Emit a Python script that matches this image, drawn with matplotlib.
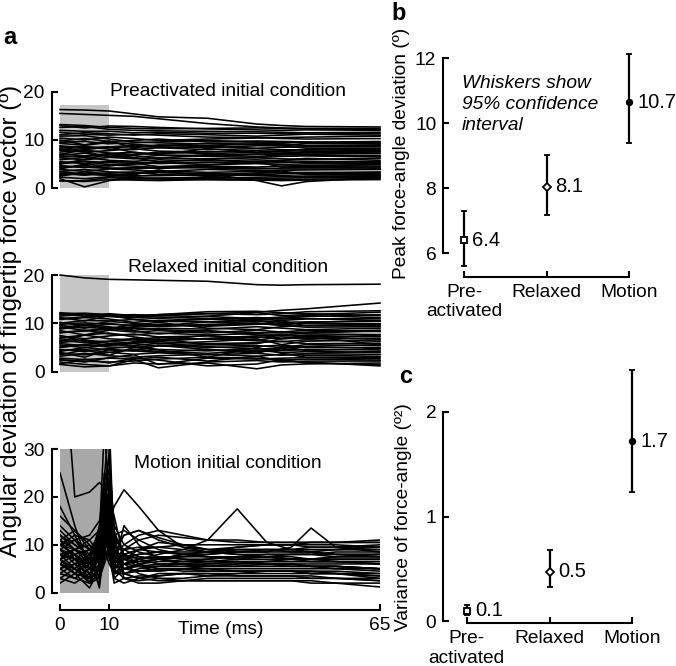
import matplotlib.pyplot as plt

plt.rcParams['font.family'] = ['Liberation Sans', 'DejaVu Sans']

W, H = 676, 666

t_slow = [0, 5, 10, 15, 20, 30, 40, 45, 50, 65]
t_motion = [0, 3, 6, 8, 9, 10, 11, 13, 16, 20, 25, 30, 36, 42, 47, 51, 56, 65]

# angular deviation traces (deg), one row per trial
preactivated = [
    [16.3, 16.2, 16.0, 15.4, 14.8, 14.5, 13.3, 13.0, 12.8, 12.7],
    [15.5, 15.3, 15.1, 14.9, 14.4, 13.4, 12.7, 12.5, 12.4, 12.4],
    [13.0, 12.5, 12.9, 12.8, 12.6, 12.3, 12.1, 12.0, 12.1, 12.0],
    [12.6, 12.8, 12.2, 12.0, 11.9, 11.8, 11.7, 11.6, 11.5, 11.3],
    [11.1, 11.5, 11.3, 11.0, 11.3, 11.1, 10.8, 11.0, 11.2, 11.0],
    [10.4, 10.0, 10.6, 10.3, 9.9, 10.2, 10.4, 10.5, 10.6, 10.8],
    [9.8, 10.3, 9.7, 9.9, 10.2, 9.6, 9.8, 9.7, 9.6, 9.5],
    [9.3, 8.9, 9.5, 9.1, 8.8, 9.3, 9.4, 9.1, 8.9, 9.0],
    [8.8, 8.4, 8.6, 8.9, 8.4, 8.7, 8.3, 8.5, 8.6, 8.6],
    [8.3, 8.7, 8.1, 8.0, 8.4, 8.0, 8.2, 8.0, 7.9, 8.1],
    [7.9, 7.5, 7.8, 8.2, 7.7, 7.5, 7.8, 7.6, 7.4, 7.5],
    [7.5, 7.9, 7.3, 7.0, 7.5, 7.2, 7.0, 7.2, 7.3, 7.2],
    [7.1, 6.7, 7.2, 7.5, 6.9, 6.8, 7.1, 7.0, 6.9, 6.8],
    [6.8, 7.3, 6.6, 6.4, 6.8, 6.6, 6.4, 6.6, 6.7, 6.5],
    [6.3, 5.9, 6.4, 6.1, 6.3, 6.1, 6.3, 6.1, 6.0, 6.2],
    [5.9, 6.4, 5.8, 5.6, 5.9, 5.7, 5.9, 5.7, 5.6, 5.5],
    [5.5, 5.1, 5.6, 5.4, 5.1, 5.4, 5.2, 5.3, 5.3, 5.1],
    [5.1, 5.5, 4.9, 5.0, 5.3, 4.9, 5.1, 4.9, 4.8, 4.9],
    [4.7, 4.3, 4.8, 4.6, 4.3, 4.6, 4.4, 4.6, 4.7, 4.6],
    [4.3, 4.7, 4.2, 4.0, 4.4, 4.2, 4.0, 4.2, 4.3, 4.2],
    [3.9, 3.5, 4.0, 3.8, 3.5, 3.9, 3.7, 3.7, 3.8, 3.9],
    [3.5, 3.9, 3.4, 3.2, 3.6, 3.3, 3.5, 3.3, 3.2, 3.4],
    [3.1, 2.7, 3.2, 3.4, 2.9, 3.1, 2.8, 3.0, 3.0, 3.0],
    [2.7, 3.1, 2.6, 2.5, 2.8, 2.6, 2.7, 2.6, 2.5, 2.6],
    [2.3, 2.0, 2.4, 2.2, 2.1, 2.3, 2.0, 2.1, 2.2, 2.3],
    [2.0, 0.3, 1.6, 2.0, 1.9, 1.8, 1.7, 1.8, 1.9, 2.0],
    [3.4, 3.0, 2.7, 3.1, 3.3, 3.0, 1.6, 0.5, 1.4, 2.2],
    [1.6, 1.4, 1.8, 1.7, 1.6, 1.8, 1.7, 1.6, 1.7, 1.8],
    [8.6, 7.6, 6.5, 6.8, 6.2, 7.0, 6.6, 6.9, 7.0, 6.6],
    [5.0, 6.0, 7.0, 6.3, 5.5, 6.0, 5.3, 5.8, 6.2, 5.8],
    [10.0, 9.0, 9.8, 8.4, 9.0, 8.8, 9.2, 8.8, 9.3, 9.3],
    [4.0, 5.0, 4.6, 5.2, 4.5, 4.8, 5.5, 4.4, 4.5, 4.4],
    [2.5, 3.4, 3.0, 2.8, 3.8, 2.4, 3.0, 3.6, 2.8, 2.8],
    [12.0, 11.8, 11.8, 11.5, 11.6, 11.4, 11.4, 11.3, 11.5, 11.6],
    [7.0, 8.0, 8.6, 7.4, 7.0, 8.2, 7.5, 7.8, 8.0, 7.8],
    [9.5, 9.7, 9.2, 9.4, 9.6, 9.9, 9.6, 9.4, 9.5, 9.7],
    [8.0, 8.2, 8.4, 8.6, 8.6, 8.4, 8.8, 8.8, 8.3, 8.3],
    [6.5, 6.6, 6.9, 7.0, 7.2, 7.6, 7.4, 7.3, 7.6, 7.6],
    [5.3, 5.6, 5.3, 5.2, 5.5, 5.3, 5.6, 5.5, 5.2, 5.3],
    [4.5, 4.4, 4.1, 4.3, 4.1, 4.4, 4.2, 4.0, 4.0, 4.0],
    [2.9, 2.9, 2.8, 2.6, 2.6, 2.8, 3.2, 3.2, 3.3, 3.2],
    [11.6, 11.2, 11.0, 11.2, 11.0, 10.6, 10.5, 10.3, 10.2, 10.3],
    [10.8, 10.9, 10.2, 9.6, 9.4, 9.2, 9.0, 9.2, 8.8, 8.8],
    [1.5, 1.6, 2.2, 1.9, 2.1, 2.0, 2.3, 2.4, 2.4, 2.5],
    [13.2, 13.0, 12.6, 12.4, 12.3, 12.4, 12.5, 12.4, 12.3, 12.2],
]

relaxed = [
    [20.0, 19.4, 19.1, 19.0, 18.9, 18.7, 18.0, 17.9, 18.0, 18.1],
    [11.0, 11.3, 11.5, 11.3, 11.6, 12.0, 12.3, 12.7, 13.0, 14.2],
    [12.0, 12.1, 11.8, 11.2, 11.0, 11.5, 12.2, 11.6, 11.8, 12.3],
    [11.5, 11.9, 11.6, 10.8, 10.5, 10.8, 11.2, 11.0, 11.4, 11.8],
    [10.8, 11.2, 10.9, 10.2, 10.6, 10.9, 10.3, 10.6, 10.9, 11.0],
    [10.2, 9.5, 10.4, 10.0, 9.5, 10.3, 10.0, 9.6, 10.2, 10.6],
    [9.6, 9.0, 10.0, 9.4, 9.8, 9.4, 9.8, 10.5, 9.5, 9.5],
    [9.0, 9.8, 9.3, 8.6, 9.0, 8.8, 9.3, 9.0, 8.7, 9.0],
    [8.5, 7.6, 8.6, 8.2, 8.5, 8.0, 8.6, 8.2, 8.6, 8.3],
    [8.0, 8.6, 7.8, 7.6, 8.0, 7.6, 7.9, 8.3, 7.8, 7.7],
    [7.4, 6.8, 7.4, 7.8, 7.2, 7.4, 7.0, 7.5, 7.2, 7.3],
    [7.0, 7.6, 6.8, 6.6, 7.1, 6.7, 7.2, 6.8, 7.0, 6.8],
    [6.5, 6.0, 6.3, 6.9, 6.4, 6.8, 6.4, 6.2, 6.6, 6.3],
    [6.0, 6.6, 5.8, 5.9, 6.2, 5.8, 6.0, 6.3, 5.8, 5.9],
    [5.5, 5.0, 5.5, 5.8, 5.3, 5.6, 5.4, 5.0, 5.6, 5.4],
    [5.1, 5.6, 5.1, 5.0, 5.5, 5.0, 5.2, 5.5, 5.0, 5.0],
    [4.6, 4.2, 4.8, 5.2, 4.6, 4.3, 4.8, 4.5, 4.6, 4.5],
    [4.2, 5.0, 4.5, 4.3, 4.0, 4.6, 4.1, 4.4, 4.2, 4.0],
    [3.8, 3.5, 4.0, 3.6, 3.9, 3.5, 3.8, 3.4, 3.7, 3.6],
    [3.2, 3.8, 3.3, 3.0, 3.3, 3.6, 3.2, 3.6, 3.4, 3.2],
    [2.5, 2.0, 2.9, 3.5, 1.5, 2.8, 2.6, 2.8, 2.9, 2.7],
    [2.0, 1.5, 1.2, 2.5, 0.8, 2.0, 2.3, 2.0, 2.2, 2.2],
    [1.5, 1.0, 1.2, 1.8, 1.6, 1.8, 0.6, 1.4, 1.6, 1.8],
    [2.8, 2.5, 2.8, 2.6, 3.0, 2.2, 3.2, 2.2, 2.0, 1.2],
    [12.0, 11.5, 12.0, 11.6, 11.8, 12.4, 12.5, 12.2, 12.0, 11.6],
    [10.0, 10.6, 10.5, 10.8, 10.4, 10.3, 10.6, 10.2, 10.3, 10.4],
    [9.3, 8.5, 9.0, 9.7, 10.2, 9.0, 8.7, 9.3, 9.6, 9.8],
    [6.2, 7.6, 8.0, 7.2, 6.6, 7.5, 6.5, 7.2, 6.8, 7.6],
    [5.0, 5.6, 6.3, 6.6, 5.8, 6.2, 6.8, 5.6, 6.3, 6.6],
    [4.0, 3.0, 4.6, 4.3, 5.4, 4.6, 3.8, 5.2, 4.4, 4.8],
    [7.5, 6.2, 5.4, 6.2, 6.8, 5.6, 5.8, 6.8, 7.3, 5.6],
    [8.8, 9.6, 9.0, 8.4, 7.8, 8.5, 7.6, 7.6, 8.0, 8.4],
    [3.5, 4.5, 3.4, 5.0, 4.5, 3.0, 5.0, 3.8, 3.0, 3.0],
    [11.2, 10.5, 11.6, 11.8, 11.6, 11.4, 11.0, 11.3, 11.6, 11.2],
    [1.6, 2.6, 1.8, 2.8, 2.4, 1.2, 1.6, 2.5, 1.8, 1.5],
    [11.8, 12.0, 11.7, 11.4, 11.3, 11.0, 10.8, 10.9, 11.0, 10.6],
    [9.8, 10.1, 9.8, 9.6, 9.4, 9.6, 9.9, 9.9, 10.0, 9.9],
    [8.2, 8.4, 8.8, 9.0, 8.7, 8.4, 8.1, 8.0, 8.2, 8.6],
    [6.8, 6.4, 6.2, 6.0, 6.4, 6.9, 7.4, 7.6, 7.5, 7.2],
    [5.8, 5.4, 5.6, 5.4, 5.9, 5.2, 4.7, 4.8, 5.2, 5.6],
    [4.4, 4.6, 4.0, 4.6, 4.2, 3.8, 4.4, 4.0, 3.8, 4.2],
    [2.4, 2.2, 2.0, 2.2, 2.6, 3.0, 2.8, 2.4, 2.6, 2.4],
    [12.2, 11.8, 11.4, 11.2, 11.8, 12.0, 11.8, 12.0, 12.4, 12.6],
    [9.0, 9.2, 8.9, 9.2, 9.4, 9.8, 10.0, 9.6, 9.2, 9.3],
]

motion = [
    [8, 5, 3, 10, 16, 9, 4, 6, 7, 8, 9, 11, 17.5, 10.5, 9, 8.5, 8, 7.5],
    [6, 4, 7, 12, 20, 14, 5, 6, 6.5, 7, 7.5, 8, 8.5, 8.5, 9.5, 13.5, 9.5, 8.5],
    [25, 14, 5, 8, 14, 10, 4, 6, 7, 7.5, 7, 6.5, 6.5, 6, 6, 5.5, 5.5, 5],
    [60, 20, 21, 23, 22, 12, 6, 8, 9, 8.5, 8, 7.5, 7.5, 7.5, 7, 7, 7, 7],
    [10, 8, 6, 9, 13, 15, 18, 21.5, 18, 13, 9.5, 8.5, 8, 7.5, 7, 7, 6.5, 6],
    [9, 7, 3, 12, 34, 20, 5, 7, 7.5, 7, 6.5, 7, 7.5, 7.5, 7, 7, 7.5, 7.5],
    [7, 5, 2, 10, 24, 36, 8, 5, 5.5, 6, 6, 5.5, 5.5, 6, 6, 5.5, 5.5, 5],
    [11, 9, 6, 14, 24, 16, 7, 8, 7, 6, 6, 6.5, 7, 7.5, 7.5, 7, 7.5, 8],
    [18, 12, 6, 5, 12, 8, 3, 5, 6, 7, 8, 8.5, 9, 9, 8.5, 8.5, 9, 9],
    [16, 13, 9, 7, 9, 6, 4, 4, 4.5, 5, 5, 4.5, 4.5, 4.5, 4.5, 4, 4, 3.5],
    [12, 10, 8, 13, 19, 21, 10, 12, 13, 11, 9.5, 9, 9.5, 10, 10, 9.5, 9.5, 10],
    [10, 11, 12, 15, 18, 14, 8, 10, 12, 13, 12, 11, 10.5, 10.5, 10.5, 10.5, 10.5, 10.5],
    [9, 6, 4, 7, 10, 12, 5, 3, 2.5, 3, 3, 3.5, 3.5, 3.5, 3.5, 3, 3, 2.5],
    [8, 9, 10, 6, 9, 11, 6, 4, 3, 2.5, 2.5, 2.5, 2.5, 2.5, 2.5, 2, 2, 1.2],
    [7, 4, 1, 5, 15, 18, 9, 6, 5.5, 5.5, 5.5, 5.5, 5.5, 5.5, 5.5, 5.5, 5, 5],
    [6, 8, 5, 2, 8, 13, 7, 5, 4.5, 4.5, 5, 5, 4.5, 4.5, 4.5, 4.5, 4.5, 4],
    [5, 3, 2, 4, 12, 22, 12, 8, 6, 5, 4.5, 4.5, 4.5, 4.5, 4.5, 4.5, 4, 3.5],
    [4, 6, 8, 1, 10, 17, 11, 9, 7.5, 7, 6.5, 6.5, 6.5, 6.5, 7, 7, 7, 7],
    [3, 2, 4, 6, 20, 26, 14, 10, 8.5, 7.5, 7, 7, 7.5, 7.5, 8, 8, 8, 8],
    [11, 7, 5, 9, 17, 12, 3, 2, 3, 4, 4, 3.5, 4, 4, 4, 4, 4, 4],
    [10, 12, 11, 8, 11, 9, 8, 12, 13, 11.5, 10, 9, 9, 9, 9, 9, 9, 9],
    [12, 9, 7, 11, 21, 19, 6, 4, 5, 5.5, 6, 6, 6, 6, 6, 6, 6, 6],
    [9, 11, 7, 3, 7, 10, 9, 7, 6.5, 7, 8, 8.5, 9.5, 10, 10, 10, 10, 9.5],
    [8, 7, 9, 12, 16, 8, 2, 3, 3.5, 3.5, 4, 4, 4, 4.5, 4.5, 4, 4, 3],
    [6, 5, 3, 8, 23, 28, 13, 7, 5.5, 4.5, 5, 5.5, 6, 6.5, 6.5, 6.5, 6.5, 6],
    [5, 7, 6, 9, 14, 11, 5, 8, 9, 9.5, 10, 10, 10, 10, 10, 10.5, 10.5, 10.5],
    [4, 3, 5, 7, 11, 15, 10, 6, 4, 3, 2.5, 2.5, 2.5, 2.5, 2.5, 2.5, 2, 2],
    [2, 4, 3, 5, 9, 20, 16, 7, 5.5, 5.5, 5.5, 6, 6.5, 6, 5.5, 5.5, 5.5, 5],
    [13, 10, 8, 10, 14, 7, 5, 7, 9, 10.5, 10, 9, 8.5, 8.5, 8.5, 8.5, 8, 8],
    [7, 9, 11, 13, 22, 15, 6, 9, 11, 12, 11.5, 11, 11, 10.5, 10.5, 10.5, 10.5, 11],
    [9, 8, 2, 6, 18, 24, 11, 4, 3, 3.5, 4, 4, 3.5, 3.5, 3.5, 3.5, 3, 3],
    [11, 13, 10, 7, 13, 17, 8, 6, 7, 7.5, 7.5, 7.5, 7.5, 8, 8, 8, 7.5, 7.5],
    [6, 4, 6, 10, 19, 13, 4, 5, 6, 6.5, 6.5, 6.5, 6.5, 6.5, 6.5, 6.5, 6.5, 6.5],
    [10, 8, 4, 3, 6, 9, 6, 14, 10, 7, 6, 5.5, 5.5, 5.5, 5.5, 5.5, 5.5, 5],
    [5, 6, 2, 3, 18, 30, 12, 3, 2, 2, 2.5, 3, 3, 3, 3, 3, 3, 2.5],
    [14, 11, 9, 11, 15, 10, 7, 9, 9.5, 9.5, 9, 8.5, 8, 8, 8, 8, 8.5, 8.5],
    [3, 5, 8, 9, 12, 19, 9, 7, 8, 8.5, 8, 8, 8.5, 9, 9, 9.5, 9.5, 9.5],
    [8, 7, 5, 8, 25, 22, 9, 5, 4.5, 5, 5, 5, 5, 5, 5, 5, 5, 4.5],
    [10, 9, 8, 12, 16, 18, 12, 13, 11, 9, 8, 7.5, 7, 7, 7, 6.5, 6.5, 6.5],
    [7, 8, 9, 10, 14, 12, 6, 7.5, 8, 8.5, 8.5, 8.5, 9, 9, 9, 9, 9, 9.5],
]

# summary statistics (means with 95% CI)
conditions = ['Pre-\nactivated', 'Relaxed', 'Motion']
peak_mean = [6.4, 8.05, 10.65]
peak_low = [5.62, 7.17, 9.38]
peak_high = [7.3, 9.02, 12.12]
peak_text = ['6.4', '8.1', '10.7']
var_mean = [0.10, 0.475, 1.72]
var_low = [0.06, 0.33, 1.23]
var_high = [0.16, 0.68, 2.40]
var_text = ['0.1', '0.5', '1.7']

FS = 13.8


def px(x, y):
    return x / W, 1 - y / H


def rect(x0, y0, x1, y1):
    # pixel box (top-left origin) -> figure fraction rect
    return [x0 / W, 1 - y1 / H, (x1 - x0) / W, (y1 - y0) / H]


fig = plt.figure(figsize=(W / 100, H / 100), dpi=100)


def trace_panel(box, t, traces, top, shade_top, shade_color, clip):
    ax = fig.add_axes(box)
    ax.fill_between([0, 10], 0, shade_top, color=shade_color, lw=0, zorder=0)
    for tr in traces:
        ax.plot(t, tr, color='black', lw=1.15, clip_on=clip)
    ax.set_xlim(0, 65)
    ax.set_ylim(0, top)
    ax.set_yticks([0, 10, 20, 30][:top // 10 + 1])
    for s in ['top', 'right', 'bottom']:
        ax.spines[s].set_visible(False)
    ax.spines['left'].set_position(('outward', 6))
    ax.spines['left'].set_bounds(0, top)
    ax.spines['left'].set_linewidth(1.5)
    ax.tick_params(axis='y', direction='in', length=4, width=1.5,
                   labelsize=FS, pad=5)
    ax.set_xticks([])
    return ax


ax1 = trace_panel(rect(60, 91.7, 380, 188.3), t_slow, preactivated, 20,
                  17.2, '#c6c6c6', False)
ax2 = trace_panel(rect(60, 275, 380, 371.7), t_slow, relaxed, 20,
                  20, '#c6c6c6', False)
ax3 = trace_panel(rect(60, 449, 380, 592.7), t_motion, motion, 30,
                  30, '#a8a8a8', True)

# time axis only under the last panel
ax3.spines['bottom'].set_visible(True)
ax3.spines['bottom'].set_position(('outward', 12.5))
ax3.spines['bottom'].set_bounds(0, 65)
ax3.spines['bottom'].set_linewidth(1.5)
ax3.set_xticks([0, 10, 65])
ax3.tick_params(axis='x', direction='in', length=4, width=1.5,
                labelsize=FS, pad=5)

fig.text(*px(228, 92), 'Preactivated initial condition', fontsize=FS,
         ha='center', va='center')
fig.text(*px(228, 267), 'Relaxed initial condition', fontsize=FS,
         ha='center', va='center')
fig.text(*px(228, 464), 'Motion initial condition', fontsize=FS,
         ha='center', va='center')
fig.text(*px(221, 629), 'Time (ms)', fontsize=FS, ha='center', va='center')
fig.text(*px(11, 321), 'Angular deviation of fingertip force vector (º)',
         fontsize=17.5, rotation=90, ha='center', va='center')


def summary_panel(box, xlim, ylim, ybounds, yticks, mean, low, high, labels):
    ax = fig.add_axes(box)
    styles = [('s', 'white', 5), ('D', 'white', 4.5), ('o', 'black', 4)]
    for i in range(3):
        m, fc, ms = styles[i]
        ax.errorbar(i, mean[i], yerr=[[mean[i] - low[i]], [high[i] - mean[i]]],
                    fmt=m, mfc=fc, mec='black', mew=1.3, ms=ms,
                    ecolor='black', elinewidth=1.6, capsize=2.5, capthick=1.6,
                    clip_on=False, zorder=3)
        ax.annotate(labels[i], (i, mean[i]), xytext=(6, 0),
                    textcoords='offset points', va='center', fontsize=14.5)
    ax.set_xlim(*xlim)
    ax.set_ylim(*ylim)
    ax.set_xticks([0, 1, 2])
    ax.set_xticklabels(conditions)
    ax.set_yticks(yticks)
    for s in ['top', 'right']:
        ax.spines[s].set_visible(False)
    ax.spines['left'].set_bounds(*ybounds)
    ax.spines['bottom'].set_bounds(0, 2)
    for s in ['left', 'bottom']:
        ax.spines[s].set_linewidth(1.5)
    ax.tick_params(direction='in', length=4, width=1.5, labelsize=FS, pad=5)
    return ax


axb = summary_panel(rect(443.3, 50.2, 670.7, 276.7), (-0.2516, 2.5),
                    (5.28, 12.25), (6, 12), [6, 8, 10, 12],
                    peak_mean, peak_low, peak_high, peak_text)
axc = summary_panel(rect(443.3, 364.5, 669.6, 623), (-0.283, 2.45),
                    (-0.015, 2.45), (0, 2), [0, 1, 2],
                    var_mean, var_low, var_high, var_text)

axb.text(-0.03, 11.48, 'Whiskers show\n95% confidence\ninterval',
         fontsize=FS, style='italic', va='top', ha='left', linespacing=1.3)

fig.text(*px(402, 153), 'Peak force-angle deviation (º)', fontsize=FS,
         rotation=90, ha='center', va='center')
fig.text(*px(403, 517), 'Variance of force-angle (º²)', fontsize=FS,
         rotation=90, ha='center', va='center')

# panel letters
fig.text(*px(10, 37), 'a', fontsize=17, fontweight='bold', ha='center', va='center')
fig.text(*px(399, 13), 'b', fontsize=17, fontweight='bold', ha='center', va='center')
fig.text(*px(406, 376), 'c', fontsize=17, fontweight='bold', ha='center', va='center')

fig.savefig('out.png', dpi=100)
